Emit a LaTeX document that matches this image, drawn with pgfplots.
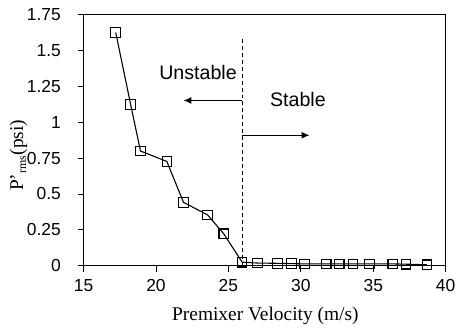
\documentclass[border=0pt]{standalone}
\usepackage{fontspec}
\setmainfont{Liberation Serif}
\newfontfamily\arial{Liberation Sans}
\usepackage{pgfplots}
\pgfplotsset{compat=1.18}
\usetikzlibrary{arrows.meta}
\begin{document}
\fontsize{17}{20}\selectfont
\begin{tikzpicture}
\begin{axis}[
  scale only axis, width=364pt, height=252pt,
  xmin=15, xmax=40, ymin=0, ymax=1.75,
  xtick={15,20,...,40},
  ytick={0,0.25,0.5,0.75,1,1.25,1.5,1.75},
  yticklabels={0,0.25,0.5,0.75,1,1.25,1.5,1.75},
  tick align=outside, xtick pos=bottom, ytick pos=left,
  major tick length=6pt,
  /pgf/number format/assume math mode=true,
  ticklabel style={font=\arial\fontsize{17.5}{20}\selectfont},
  yticklabel style={anchor=east, xshift=-11pt},
  xticklabel style={yshift=-2pt},
  xlabel={Premixer Velocity (m/s)},
  ylabel={P'\textsubscript{\fontsize{12}{12}\selectfont rms}(psi)},
  label style={font=\fontsize{19.5}{22}\selectfont},
  xlabel style={at={([yshift=-54.7pt]axis description cs:0.502,0)}, anchor=base},
  ylabel style={at={([xshift=-65.5pt]axis description cs:0,0.44)}, anchor=center},
  axis line style={line width=0.9pt},
  tick style={line width=0.9pt, black},
]
\coordinate (sw) at (rel axis cs:0,0);
\coordinate (ne) at (rel axis cs:1,1);
\addplot[black, line width=1.1pt, mark=square, mark size=4.8pt, mark options={solid, line width=1.1pt}] coordinates {
(17.22,1.627)(18.25,1.125)(18.93,0.80)(20.75,0.727)(21.9,0.442)(23.56,0.354)(24.68,0.222)(25.95,0.024)
(27.0,0.018)(28.4,0.016)(29.35,0.014)(30.25,0.012)(31.75,0.012)(32.65,0.012)(33.6,0.012)(34.75,0.012)(36.35,0.012)(37.25,0.01)(38.7,0.006)
};
\addplot[black, line width=1pt, dashed, dash pattern=on 4pt off 3pt] coordinates {(25.96,0)(25.96,1.6)};
\addplot[black, line width=1.1pt, -{Latex[length=8pt,width=7pt]}] coordinates {(25.96,1.153)(21.9,1.153)};
\addplot[black, line width=1.1pt, -{Latex[length=8pt,width=7pt]}] coordinates {(25.96,0.91)(30.6,0.91)};
\node[font=\arial\fontsize{19.7}{22}\selectfont] at (axis cs:22.9,1.35) {Unstable};
\node[font=\arial\fontsize{19.7}{22}\selectfont] at (axis cs:29.8,1.16) {Stable};
\end{axis}
\path ([shift={(-84pt,-68pt)}]sw) rectangle ([shift={(13pt,15pt)}]ne);
\end{tikzpicture}
\end{document}
